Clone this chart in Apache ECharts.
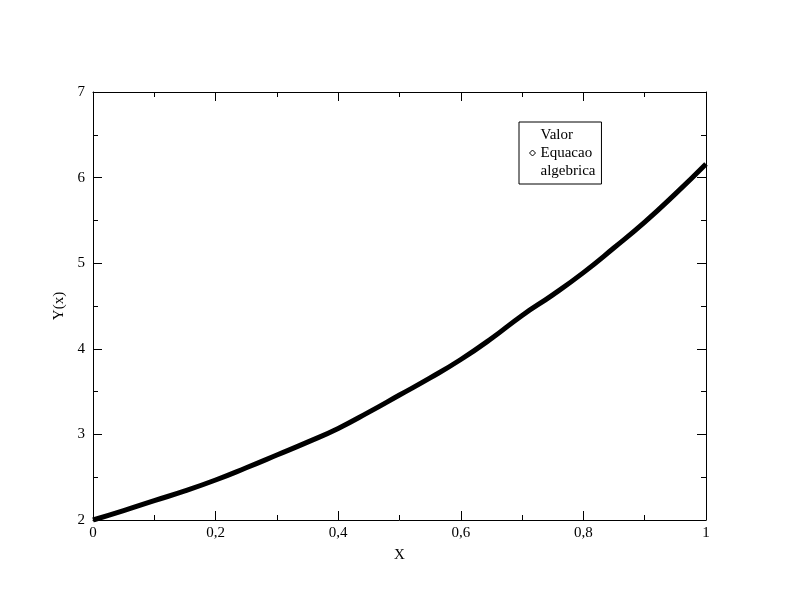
<!DOCTYPE html>
<html><head><meta charset="utf-8">
<script src="https://cdn.jsdelivr.net/npm/echarts@6/dist/echarts.min.js"></script>
<style>html,body{margin:0;background:#fff}#c{width:792px;height:612px}</style>
</head><body><div id="c"></div>
<script>
const xs=[0,0.05,0.1,0.15,0.2,0.25,0.3,0.35,0.4,0.45,0.5,0.55,0.6,0.65,0.7,0.75,0.8,0.85,0.9,0.95,1];
const ys=[2.00,2.11,2.226,2.34,2.467,2.61,2.759,2.91,3.07,3.26,3.46,3.66,3.875,4.12,4.39,4.63,4.89,5.18,5.48,5.81,6.16];
const seriesName='Valor\nEquacao\nalgebrica';
const F='Liberation Serif';
const chart=echarts.init(document.getElementById('c'));
const fmt=v=>String(v).replace('.',',');
function ax(show,extra){return Object.assign({axisLine:{show:true,onZero:false,lineStyle:{color:'#000',width:1}},
 axisTick:{show:true,inside:true,length:9,lineStyle:{color:'#000'}},
 minorTick:{show:true,splitNumber:2,length:5,lineStyle:{color:'#000'}},
 splitLine:{show:false},axisLabel:{show:show,color:'#000',fontFamily:F,fontSize:15,formatter:fmt}},extra);}
chart.setOption({
 animation:false,
 grid:{left:93,right:86,top:92,bottom:92},
 legend:{show:true,left:519,top:122,orient:'vertical',borderColor:'#000',borderWidth:1,padding:[4,6,4,10],
  itemWidth:6,itemHeight:6,icon:'diamond',textStyle:{fontFamily:F,fontSize:15,color:'#000',lineHeight:18},
  data:[{name:seriesName,itemStyle:{color:'#fff',borderColor:'#000',borderWidth:1}}]},
 xAxis:[ax(true,{type:'value',min:0,max:1,interval:0.2,name:'X',nameLocation:'middle',nameGap:28,
   nameTextStyle:{fontFamily:F,fontSize:15,color:'#000'},axisLabel:{show:true,color:'#000',fontFamily:F,fontSize:15,margin:6,formatter:fmt}}),
   ax(false,{type:'value',position:'top',min:0,max:1,interval:0.2})],
 yAxis:[ax(true,{type:'value',min:2,max:7,interval:1,name:'Y(x)',nameLocation:'middle',nameGap:26,
   nameTextStyle:{fontFamily:F,fontSize:15,color:'#000'}}),
   ax(false,{type:'value',position:'right',min:2,max:7,interval:1})],
 series:[{name:seriesName,type:'line',smooth:true,showSymbol:false,symbol:'diamond',
  lineStyle:{color:'#000',width:5},itemStyle:{color:'#000'},
  data:xs.map((x,i)=>[x,ys[i]])}]
});
</script></body></html>
